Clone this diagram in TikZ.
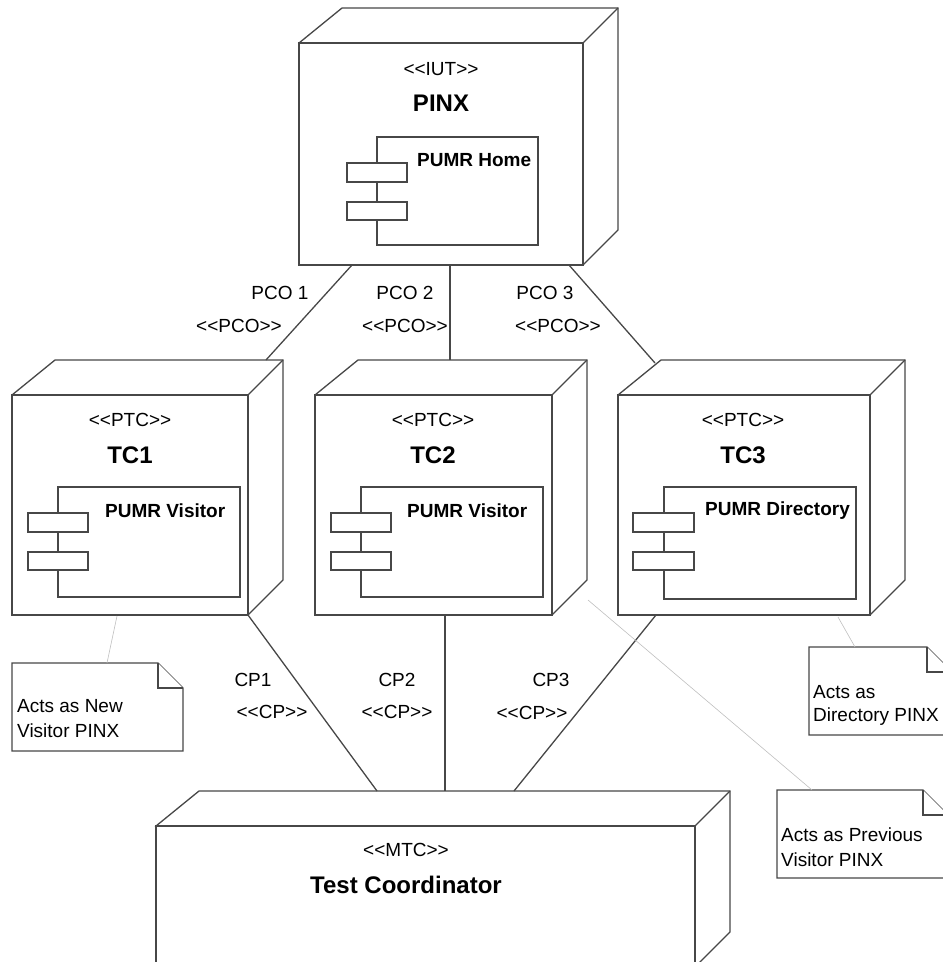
\documentclass[tikz,border=0pt]{standalone}
\usepackage{fontspec}
\setmainfont{Liberation Sans}[Ligatures=TeXOff]
\tikzset{
 box/.style={draw=black!72, line width=1.3pt, fill=white, line join=miter},
 link/.style={draw=black!72, line width=1.3pt},
 notelink/.style={draw=black!25, line width=0.6pt},
 stereo/.style={font=\fontsize{19}{22}\selectfont, inner sep=0pt},
 titletext/.style={font=\fontsize{24}{28}\selectfont\bfseries, inner sep=0pt},
 compname/.style={font=\fontsize{19}{22}\selectfont\bfseries, inner sep=0pt, anchor=west},
 lbl/.style={font=\fontsize{19}{22}\selectfont, inner sep=0pt},
 notetext/.style={font=\fontsize{19}{25}\selectfont, inner sep=0pt, anchor=west},
}
\newcommand\depnode[5]{%
 \draw[box] (#2,#3) -- ({#2+43},{#3-35}) -- ({#4+35},{#3-35}) -- ({#4+35},{#5-35}) -- (#4,#5) -- cycle;
 \draw[box] (#2,#3) rectangle (#4,#5);
 \draw[box] (#4,#3) -- ({#4+35},{#3-35});
 \path (#2,#3) coordinate (#1-nw) (#4,#5) coordinate (#1-se);
}
\newcommand\umlcomp[6]{%
 \draw[box] (#1,#2) rectangle (#3,#4);
 \draw[box] (#5,{#2+26}) rectangle (#6,{#2+45});
 \draw[box] (#5,{#2+65}) rectangle (#6,{#2+83});
}
\newcommand\umlnote[4]{%
 \draw[box] (#1,#2) -- ({#3-25},#2) -- (#3,{#2+25}) -- (#3,#4) -- (#1,#4) -- cycle;
 \draw[box] ({#3-25},#2) -- ({#3-25},{#2+25}) -- (#3,{#2+25});
}
\begin{document}
\begin{tikzpicture}[x=1pt,y=-1pt]
\useasboundingbox (0,0) rectangle (943,962);
\clip (0,0) rectangle (943,962);

% ---------- nodes ----------
\depnode{pinx}{299}{43}{583}{265}
\umlcomp{377}{137}{538}{245}{347}{407}
\node[stereo] (pinxst) at (441,69) {<<IUT>>};
\node[titletext] (pinxt) at (441,103) {PINX};
\node[compname] (pinxc) at (417,160) {PUMR Home};

\depnode{tca}{12}{395}{248}{615}
\umlcomp{58}{487}{240}{597}{28}{88}
\node[stereo] (tcast) at (130,420) {<<PTC>>};
\node[titletext] (tcat) at (130,455) {TC1};
\node[compname] (tcac) at (105,511) {PUMR Visitor};

\depnode{tcb}{315}{395}{552}{615}
\umlcomp{361}{487}{543}{597}{331}{391}
\node[stereo] (tcbst) at (433,420) {<<PTC>>};
\node[titletext] (tcbt) at (433,455) {TC2};
\node[compname] (tcbc) at (407,511) {PUMR Visitor};

\depnode{tcc}{618}{395}{870}{615}
\umlcomp{664}{487}{856}{599}{633}{694}
\node[stereo] (tccst) at (743,420) {<<PTC>>};
\node[titletext] (tcct) at (743,455) {TC3};
\node[compname] (tccc) at (705,511) {PUMR Directory};

\depnode{mtc}{156}{826}{695}{967}
\node[stereo] (mtcst) at (406,850) {<<MTC>>};
\node[titletext] (mtct) at (406,885) {Test Coordinator};

% ---------- notes ----------
\umlnote{12}{663}{183}{751}
\node[notetext] (n1a) at (17,706) {Acts as New};
\node[notetext] (n1b) at (17,731) {Visitor PINX};
\umlnote{809}{647}{952}{735}
\node[notetext] (n2a) at (813,692) {Acts as};
\node[notetext] (n2b) at (813,717) {Directory PINX};
\umlnote{777}{790}{948}{878}
\node[notetext] (n3a) at (781,835) {Acts as Previous};
\node[notetext] (n3b) at (781,860) {Visitor PINX};

% ---------- connector end points ----------
\coordinate (pinx-o1) at (352,265);
\coordinate (pinx-o2) at (450,265);
\coordinate (pinx-o3) at (569,265);
\coordinate (tca-in) at (266,360);
\coordinate (tcb-in) at (450,360);
\coordinate (tcc-in) at (655,363);
\coordinate (tca-out) at (248,615);
\coordinate (tcb-out) at (445,615);
\coordinate (tcc-out) at (656,615);
\coordinate (mtc-i1) at (377,791);
\coordinate (mtc-i2) at (445,791);
\coordinate (mtc-i3) at (514,791);
\coordinate (tca-n) at (117,616);
\coordinate (n1-top) at (107,663);
\coordinate (tcc-n) at (838,617);
\coordinate (n2-top) at (855,647);
\coordinate (tcb-n) at (588,600);
\coordinate (n3-top) at (812,790);

\draw[link] (pinx-o1) -- (tca-in);
\draw[link] (pinx-o2) -- (tcb-in);
\draw[link] (pinx-o3) -- (tcc-in);
\draw[link] (tca-out) -- (mtc-i1);
\draw[link] (tcb-out) -- (mtc-i2);
\draw[link] (tcc-out) -- (mtc-i3);
\draw[notelink] (tca-n) -- (n1-top);
\draw[notelink] (tcc-n) -- (n2-top);
\draw[notelink] (tcb-n) -- (n3-top);

% ---------- connector labels ----------
\node[lbl] (l1a) at (280,293) {PCO 1};
\node[lbl] (l1b) at (239,326) {<<PCO>>};
\node[lbl] (l2a) at (405,293) {PCO 2};
\node[lbl] (l2b) at (405,326) {<<PCO>>};
\node[lbl] (l3a) at (545,293) {PCO 3};
\node[lbl] (l3b) at (558,326) {<<PCO>>};
\node[lbl] (c1a) at (253,680) {CP1};
\node[lbl] (c1b) at (272,712) {<<CP>>};
\node[lbl] (c2a) at (397,680) {CP2};
\node[lbl] (c2b) at (397,712) {<<CP>>};
\node[lbl] (c3a) at (551,680) {CP3};
\node[lbl] (c3b) at (532,713) {<<CP>>};
\end{tikzpicture}
\end{document}
